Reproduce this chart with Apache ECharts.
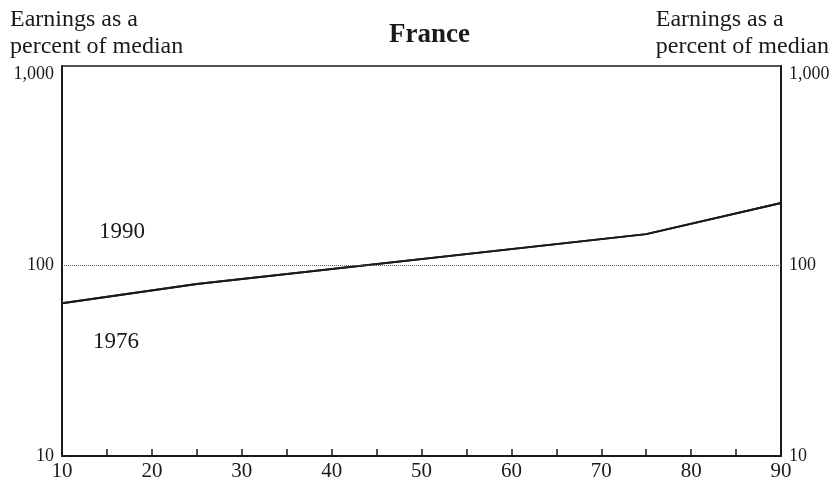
<!DOCTYPE html>
<html>
<head>
<meta charset="utf-8">
<script src="https://cdn.jsdelivr.net/npm/echarts@6/dist/echarts.min.js"></script>
<style>
  html, body { margin: 0; padding: 0; background: #fff; }
  #chart { width: 833px; height: 486px; }
</style>
</head>
<body>
<div id="chart"></div>
<script>
// percentiles of the earnings distribution
const percentiles = [10, 25, 75, 90];
// earnings as a percent of median
const earnings1976 = [63, 79.5, 145, 211];
const earnings1990 = [63, 79.5, 145, 211];
const yTickLabels = [10, 100, 1000];

const font = 'Liberation Serif';
const ink = '#1a1a1a';

const fmtY = v => {
    const hit = yTickLabels.find(t => Math.abs(t - v) / t < 0.01);
    return hit ? hit.toLocaleString('en-US') : '';
};

const yAxisBase = {
    type: 'log',
    logBase: 10,
    min: 10,
    max: 1100,
    axisLine: { show: true, lineStyle: { color: ink, width: 2 } },
    axisTick: { show: false },
    splitLine: { show: false },
    axisLabel: {
        color: ink, fontFamily: font, fontSize: 18, margin: 8,
        formatter: fmtY, showMaxLabel: false
    }
};

let myChart = echarts.init(document.getElementById('chart'));
myChart.setOption({
    backgroundColor: '#fff',
    animation: false,
    title: {
        text: 'France',
        left: 384,
        top: 17,
        textStyle: { fontFamily: font, fontSize: 27, fontWeight: 'bold', color: ink }
    },
    grid: {
        left: 62, right: 52, top: 66, bottom: 30,
        show: true, borderColor: ink, borderWidth: 1.5
    },
    xAxis: {
        type: 'value',
        min: 10,
        max: 90,
        interval: 5,
        axisLine: { lineStyle: { color: ink, width: 2 } },
        axisTick: { inside: true, length: 7, lineStyle: { color: ink, width: 1.5 } },
        splitLine: { show: false },
        axisLabel: {
            color: ink, fontFamily: font, fontSize: 21, margin: 5,
            formatter: v => (v % 10 === 0 ? String(v) : '')
        }
    },
    yAxis: [
        Object.assign({}, yAxisBase, { position: 'left' }),
        Object.assign({}, yAxisBase, { position: 'right' })
    ],
    graphic: [
        { type: 'text', left: 10, top: 6, style: { text: 'Earnings as a\npercent of median', font: '24px "Liberation Serif"', fill: ink, lineHeight: 27 } },
        { type: 'text', right: 4, top: 6, style: { text: 'Earnings as a\npercent of median', font: '24px "Liberation Serif"', fill: ink, lineHeight: 27, align: 'right' } },
        { type: 'text', left: 99, top: 220, style: { text: '1990', font: '23px "Liberation Serif"', fill: ink } },
        { type: 'text', left: 93, top: 330, style: { text: '1976', font: '23px "Liberation Serif"', fill: ink } }
    ],
    series: [
        {
            name: '1976',
            type: 'line',
            data: percentiles.map((p, i) => [p, earnings1976[i]]),
            symbol: 'none',
            lineStyle: { color: ink, width: 2 },
            markLine: {
                silent: true,
                symbol: 'none',
                label: { show: false },
                lineStyle: { color: '#555', width: 1, type: [1, 1] },
                data: [{ yAxis: 100 }]
            }
        },
        {
            name: '1990',
            type: 'line',
            data: percentiles.map((p, i) => [p, earnings1990[i]]),
            symbol: 'none',
            lineStyle: { color: ink, width: 2 }
        }
    ]
});
</script>
</body>
</html>
